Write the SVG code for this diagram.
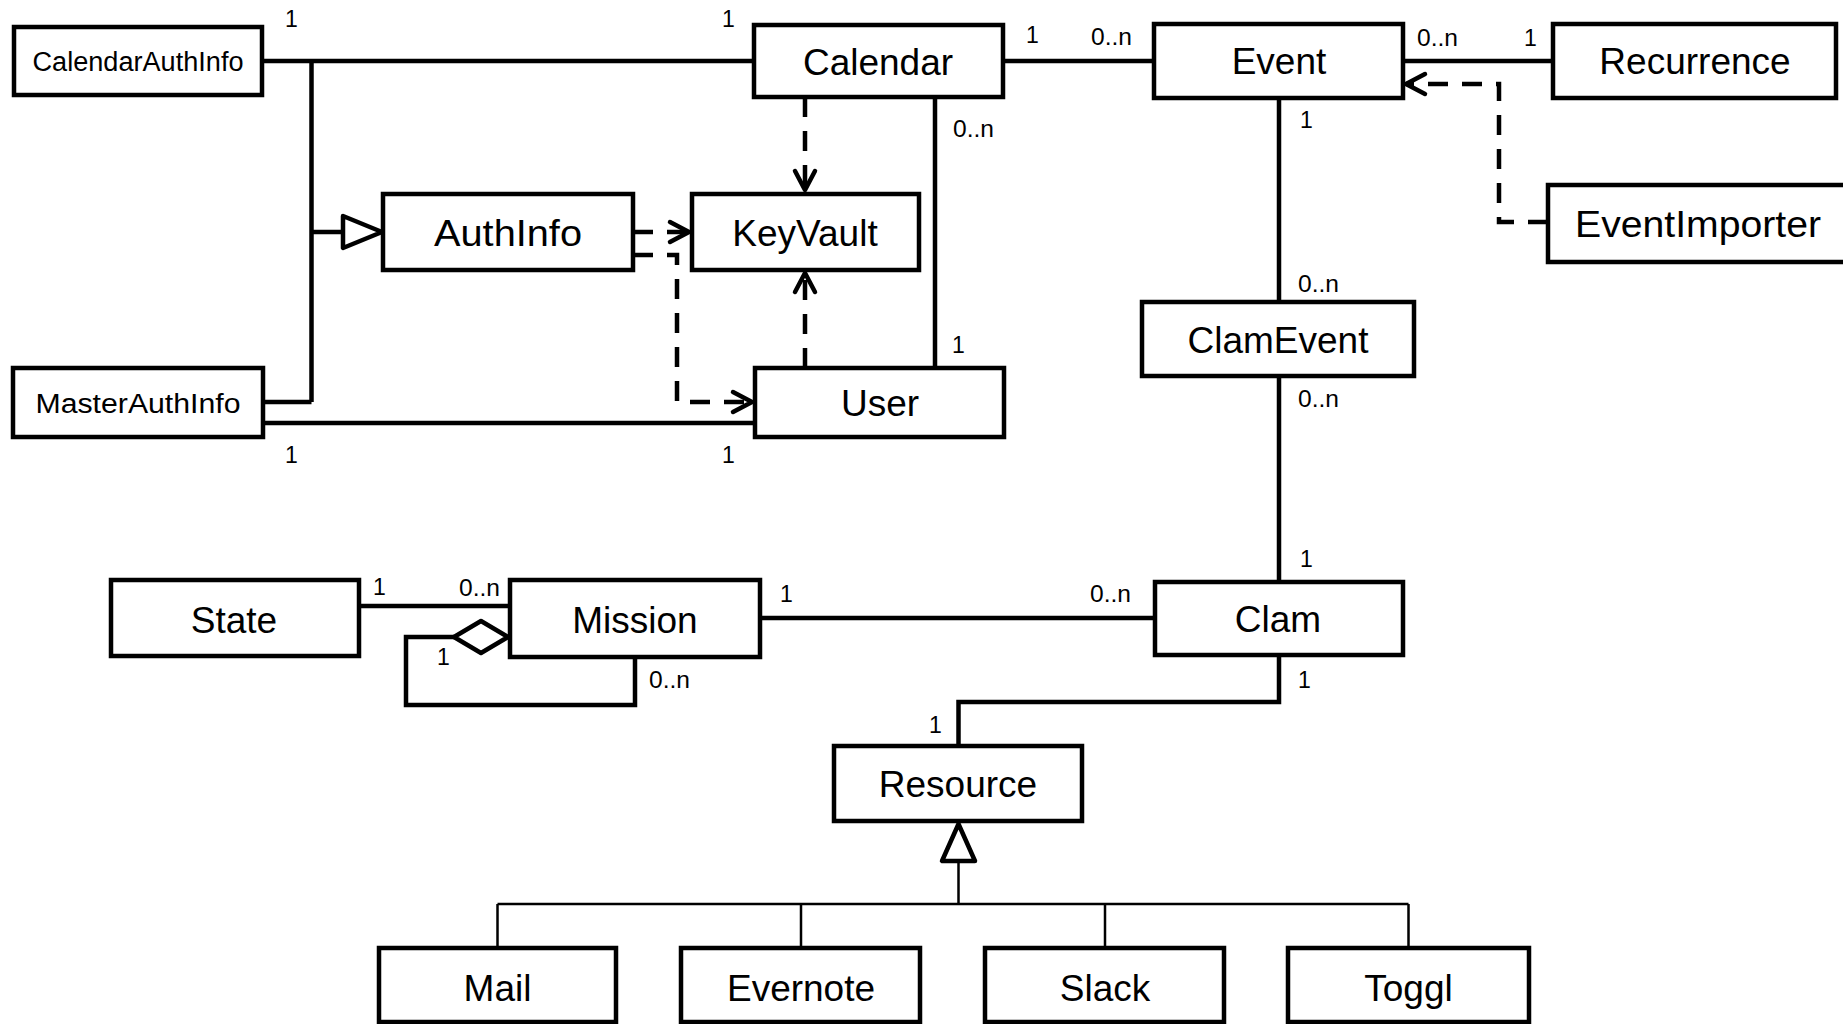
<svg xmlns="http://www.w3.org/2000/svg" width="1843" height="1024" viewBox="0 0 1843 1024">
<style>
.box{fill:#fff;stroke:#000;stroke-width:4.5;stroke-linejoin:miter}
.lbl{font-family:"Liberation Sans",Arial,sans-serif;font-size:37px;fill:#000;text-anchor:middle}
.sm{font-size:27px}
.m{font-family:"Liberation Sans",Arial,sans-serif;font-size:23px;fill:#000}
.ln{fill:none;stroke:#000;stroke-width:4.5}
.dash{fill:none;stroke:#000;stroke-width:4.5;stroke-dasharray:20 14}
.thin{fill:none;stroke:#000;stroke-width:2.5}
.hollow{fill:#fff;stroke:#000;stroke-width:4.5;stroke-linejoin:round}
</style>
<defs>
<marker id="open" viewBox="-25 -15 30 30" markerWidth="30" markerHeight="30" refX="0" refY="0" orient="auto" markerUnits="userSpaceOnUse">
<path d="M -19 -10 L 0 0 L -19 10" fill="none" stroke="#000" stroke-width="4.5" stroke-linecap="round" stroke-linejoin="round"/>
</marker>
</defs>
<rect width="1843" height="1024" fill="#fff"/>

<g id="connectors">
<path class="ln" d="M262 61H754"/>
<path class="ln" d="M311.5 61V402M263 402H311.5M311.5 232H343"/>
<polygon class="hollow" points="343,216 382,232 343,248"/>
<path class="ln" d="M263 423H755"/>
<path class="ln" d="M1003 61H1154"/>
<path class="ln" d="M1403 61H1553"/>
<path class="ln" d="M935 97V368"/>
<path class="dash" d="M805 97V190" marker-end="url(#open)"/>
<path class="dash" d="M805 368V273" marker-end="url(#open)"/>
<path class="dash" d="M633 232H689" marker-end="url(#open)"/>
<path class="dash" d="M633 255H677V402H752" marker-end="url(#open)"/>
<path class="dash" d="M1548 222H1499V84H1406" marker-end="url(#open)"/>
<path class="ln" d="M1279 98V302"/>
<path class="ln" d="M1279 376V582"/>
<path class="ln" d="M359 606H510"/>
<path class="ln" d="M760 618H1155"/>
<path class="ln" d="M454 637H406V705H635V657"/>
<polygon class="hollow" points="508,637 481,621 454,637 481,653"/>
<path class="ln" d="M1279 655V702H958.5V746"/>
<polygon class="hollow" points="958.5,824 942,861 975,861"/>
<path class="thin" d="M958.5 861V904M497.5 904H1408.5M497.5 904V948M801 904V948M1105 904V948M1408.5 904V948"/>
<text class="m" x="285" y="27">1</text>
<text class="m" x="722" y="27">1</text>
<text class="m" x="285" y="463">1</text>
<text class="m" x="722" y="463">1</text>
<text class="m" x="1026" y="43">1</text>
<text class="m" x="1091" y="45" textLength="41" lengthAdjust="spacingAndGlyphs">0..n</text>
<text class="m" x="1417" y="46" textLength="41" lengthAdjust="spacingAndGlyphs">0..n</text>
<text class="m" x="1524" y="46">1</text>
<text class="m" x="953" y="137" textLength="41" lengthAdjust="spacingAndGlyphs">0..n</text>
<text class="m" x="952" y="353">1</text>
<text class="m" x="1300" y="128">1</text>
<text class="m" x="1298" y="292" textLength="41" lengthAdjust="spacingAndGlyphs">0..n</text>
<text class="m" x="1298" y="407" textLength="41" lengthAdjust="spacingAndGlyphs">0..n</text>
<text class="m" x="1300" y="567">1</text>
<text class="m" x="373" y="595">1</text>
<text class="m" x="459" y="596" textLength="41" lengthAdjust="spacingAndGlyphs">0..n</text>
<text class="m" x="780" y="602">1</text>
<text class="m" x="1090" y="602" textLength="41" lengthAdjust="spacingAndGlyphs">0..n</text>
<text class="m" x="437" y="665">1</text>
<text class="m" x="649" y="688" textLength="41" lengthAdjust="spacingAndGlyphs">0..n</text>
<text class="m" x="1298" y="688">1</text>
<text class="m" x="929" y="733">1</text>
</g>

<g id="CalendarAuthInfo"><rect class="box" x="14" y="27" width="248" height="68"/><text class="lbl sm" x="138" y="71" textLength="211" lengthAdjust="spacingAndGlyphs">CalendarAuthInfo</text></g>
<g id="MasterAuthInfo"><rect class="box" x="13" y="368" width="250" height="69"/><text class="lbl sm" x="138" y="413" textLength="205" lengthAdjust="spacingAndGlyphs">MasterAuthInfo</text></g>
<g id="AuthInfo"><rect class="box" x="383" y="194" width="250" height="76"/><text class="lbl" x="508" y="246" textLength="148" lengthAdjust="spacingAndGlyphs">AuthInfo</text></g>
<g id="KeyVault"><rect class="box" x="692" y="194" width="227" height="76"/><text class="lbl" x="805" y="246">KeyVault</text></g>
<g id="Calendar"><rect class="box" x="754" y="25" width="249" height="72"/><text class="lbl" x="878" y="75">Calendar</text></g>
<g id="User"><rect class="box" x="755" y="368" width="249" height="69"/><text class="lbl" x="880" y="416">User</text></g>
<g id="Event"><rect class="box" x="1154" y="24" width="249" height="74"/><text class="lbl" x="1279" y="74">Event</text></g>
<g id="Recurrence"><rect class="box" x="1553" y="24" width="283" height="74"/><text class="lbl" x="1695" y="74">Recurrence</text></g>
<g id="EventImporter"><rect class="box" x="1548" y="185" width="320" height="77"/><text class="lbl" x="1698" y="237" textLength="246" lengthAdjust="spacingAndGlyphs">EventImporter</text></g>
<g id="ClamEvent"><rect class="box" x="1142" y="302" width="272" height="74"/><text class="lbl" x="1278" y="353">ClamEvent</text></g>
<g id="Clam"><rect class="box" x="1155" y="582" width="248" height="73"/><text class="lbl" x="1278" y="632">Clam</text></g>
<g id="State"><rect class="box" x="111" y="580" width="248" height="76"/><text class="lbl" x="234" y="633">State</text></g>
<g id="Mission"><rect class="box" x="510" y="580" width="250" height="77"/><text class="lbl" x="635" y="633">Mission</text></g>
<g id="Resource"><rect class="box" x="834" y="746" width="248" height="75"/><text class="lbl" x="958" y="797">Resource</text></g>
<g id="Mail"><rect class="box" x="379" y="948" width="237" height="74"/><text class="lbl" x="497.5" y="1001">Mail</text></g>
<g id="Evernote"><rect class="box" x="681" y="948" width="239" height="74"/><text class="lbl" x="801" y="1001">Evernote</text></g>
<g id="Slack"><rect class="box" x="985" y="948" width="239" height="74"/><text class="lbl" x="1105" y="1001">Slack</text></g>
<g id="Toggl"><rect class="box" x="1288" y="948" width="241" height="74"/><text class="lbl" x="1408.5" y="1001">Toggl</text></g>
</svg>
